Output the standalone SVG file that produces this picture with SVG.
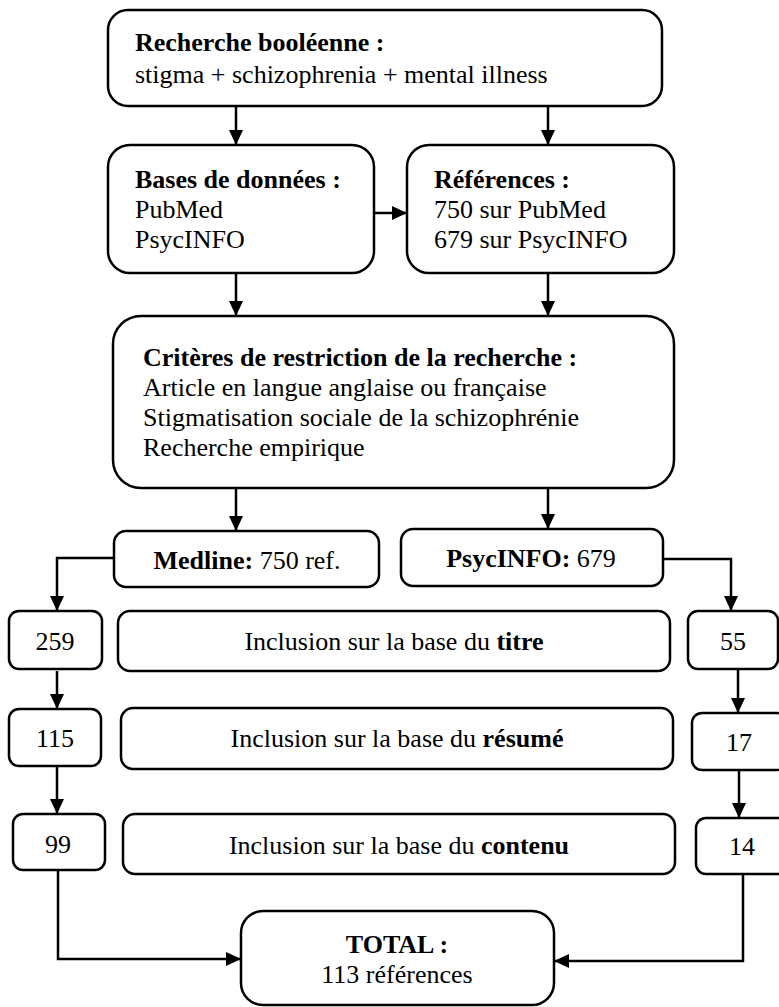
<svg xmlns="http://www.w3.org/2000/svg" width="779" height="1007" viewBox="0 0 779 1007">
  <style>
    .box { fill: #ffffff; stroke: #000000; stroke-width: 2.5; }
    .t { font-family: "Liberation Serif", "Times New Roman", serif; font-size: 26px; fill: #000000; }
    .b { font-weight: bold; }
    .c { text-anchor: middle; }
    .con { fill: none; stroke: #000000; stroke-width: 2.5; marker-end: url(#arr); }
  </style>
  <defs>
    <marker id="arr" markerUnits="userSpaceOnUse" markerWidth="15" markerHeight="14" refX="15" refY="7" orient="auto">
      <path d="M0,0 L15,7 L0,14 z" fill="#000000"/>
    </marker>
  </defs>
  <rect width="779" height="1007" fill="#ffffff"/>

  <g id="connectors">
    <path class="con" d="M236,106 V145"/>
    <path class="con" d="M548,106 V145"/>
    <path class="con" d="M375,213 H407"/>
    <path class="con" d="M236,273 V316"/>
    <path class="con" d="M548,273 V316"/>
    <path class="con" d="M236,488 V531"/>
    <path class="con" d="M548,488 V529"/>
    <path class="con" d="M114,558 H57 V611"/>
    <path class="con" d="M663,559 H731 V611"/>
    <path class="con" d="M57,671 V709"/>
    <path class="con" d="M738,669 V713"/>
    <path class="con" d="M57,766 V814"/>
    <path class="con" d="M739,770 V818"/>
    <path class="con" d="M58,870 V959 H241"/>
    <path class="con" d="M743,874 V961 H554"/>
  </g>

  <g id="recherche">
    <rect class="box" x="108" y="10" width="554" height="96" rx="20"/>
    <text class="t b" x="135" y="51">Recherche booléenne :</text>
    <text class="t" x="135" y="83">stigma + schizophrenia + mental illness</text>
  </g>

  <g id="bases">
    <rect class="box" x="108" y="145" width="266" height="128" rx="22"/>
    <text class="t b" x="135" y="188">Bases de données :</text>
    <text class="t" x="135" y="218">PubMed</text>
    <text class="t" x="135" y="248">PsycINFO</text>
  </g>

  <g id="references">
    <rect class="box" x="407" y="145" width="267" height="128" rx="22"/>
    <text class="t b" x="434" y="188">Références :</text>
    <text class="t" x="434" y="218">750 sur PubMed</text>
    <text class="t" x="434" y="248">679 sur PsycINFO</text>
  </g>

  <g id="criteres">
    <rect class="box" x="113" y="316" width="561" height="172" rx="28"/>
    <text class="t b" x="143" y="366">Critères de restriction de la recherche :</text>
    <text class="t" x="143" y="396">Article en langue anglaise ou française</text>
    <text class="t" x="143" y="426">Stigmatisation sociale de la schizophrénie</text>
    <text class="t" x="143" y="456">Recherche empirique</text>
  </g>

  <g id="medline">
    <rect class="box" x="114" y="531" width="265" height="56" rx="12"/>
    <text class="t c" x="247" y="569"><tspan class="b">Medline:</tspan> 750 ref.</text>
  </g>

  <g id="psycinfo">
    <rect class="box" x="401" y="529" width="262" height="57" rx="12"/>
    <text class="t c" x="531" y="567"><tspan class="b">PsycINFO:</tspan> 679</text>
  </g>

  <g id="n259">
    <rect class="box" x="9" y="611" width="93" height="58" rx="10"/>
    <text class="t c" x="55" y="650">259</text>
  </g>

  <g id="titre">
    <rect class="box" x="118" y="611" width="552" height="60" rx="12"/>
    <text class="t c" x="394" y="650">Inclusion sur la base du <tspan class="b">titre</tspan></text>
  </g>

  <g id="n55">
    <rect class="box" x="688" y="611" width="90" height="58" rx="10"/>
    <text class="t c" x="733" y="650">55</text>
  </g>

  <g id="n115">
    <rect class="box" x="9" y="709" width="92" height="57" rx="10"/>
    <text class="t c" x="55" y="747">115</text>
  </g>

  <g id="resume">
    <rect class="box" x="121" y="708" width="552" height="61" rx="12"/>
    <text class="t c" x="397" y="747">Inclusion sur la base du <tspan class="b">résumé</tspan></text>
  </g>

  <g id="n17">
    <rect class="box" x="692" y="713" width="95" height="57" rx="10"/>
    <text class="t c" x="739" y="751">17</text>
  </g>

  <g id="n99">
    <rect class="box" x="13" y="814" width="92" height="56" rx="10"/>
    <text class="t c" x="58" y="853">99</text>
  </g>

  <g id="contenu">
    <rect class="box" x="123" y="814" width="552" height="60" rx="12"/>
    <text class="t c" x="399" y="854">Inclusion sur la base du <tspan class="b">contenu</tspan></text>
  </g>

  <g id="n14">
    <rect class="box" x="696" y="818" width="92" height="56" rx="10"/>
    <text class="t c" x="742" y="855">14</text>
  </g>

  <g id="total">
    <rect class="box" x="241" y="911" width="313" height="94" rx="22"/>
    <text class="t b c" x="397" y="953">TOTAL :</text>
    <text class="t c" x="397" y="983">113 références</text>
  </g>
</svg>
